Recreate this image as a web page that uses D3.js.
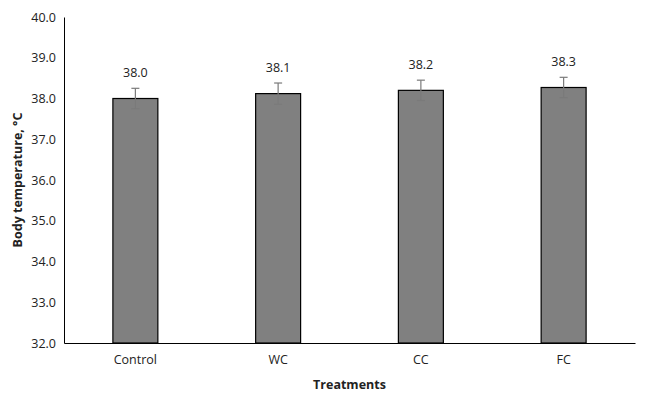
<!DOCTYPE html>
<html>
<head>
<meta charset="utf-8">
<script src="https://cdn.jsdelivr.net/npm/d3@7"></script>
<style>
body{margin:0;background:#fff;}
svg text{font-family:"Open Sans","Noto Sans",sans-serif;fill:#222;}
</style>
</head>
<body>
<svg id="c" width="648" height="401"></svg>
<script>
const categories = ["Control","WC","CC","FC"];
const values = [38.0, 38.12, 38.2, 38.27];
const errors = [0.25, 0.26, 0.25, 0.25];
const labels = ["38.0","38.1","38.2","38.3"];
const yTicks = [32,33,34,35,36,37,38,39,40];

const svg = d3.select("#c");
const m = {l:64, r:13, t:17, b:58};
const W = 648, H = 401;
const x = d3.scaleBand().domain(categories).range([m.l, W-m.r]).paddingInner(0.685).paddingOuter(0.3425);
const y = d3.scaleLinear().domain([32,40]).range([H-m.b, m.t]);

// axes
const ya = svg.append("g").attr("transform",`translate(${m.l},0)`)
  .call(d3.axisLeft(y).tickValues(yTicks).tickFormat(d3.format(".1f")).tickSize(0).tickPadding(8));
ya.select(".domain").attr("stroke","#000");
ya.selectAll("text").attr("font-size",12.5).style("font-family",'"Open Sans","Noto Sans",sans-serif').attr("fill","#222");

// bars
svg.append("g").selectAll("rect").data(categories).join("rect")
  .attr("x",d=>x(d)).attr("width",x.bandwidth())
  .attr("y",(d,i)=>y(values[i])).attr("height",(d,i)=>y(32)-y(values[i]))
  .attr("fill","#808080").attr("stroke","#000").attr("stroke-width",1.2);

const xa = svg.append("g").attr("transform",`translate(0,${H-m.b})`)
  .call(d3.axisBottom(x).tickSize(0).tickPadding(12));
xa.select(".domain").attr("stroke","#000").attr("stroke-width",1.2);
xa.selectAll("text").attr("font-size",12.5).style("font-family",'"Open Sans","Noto Sans",sans-serif').attr("fill","#222");

// error bars
const eg = svg.append("g").attr("stroke","#7a7a7a").attr("stroke-width",1.2);
categories.forEach((c,i)=>{
  const cx = x(c)+x.bandwidth()/2;
  const y1 = y(values[i]+errors[i]), y2 = y(values[i]-errors[i]);
  eg.append("line").attr("x1",cx).attr("x2",cx).attr("y1",y1).attr("y2",y2);
  eg.append("line").attr("x1",cx-4).attr("x2",cx+4).attr("y1",y1).attr("y2",y1);
  eg.append("line").attr("x1",cx-4).attr("x2",cx+4).attr("y1",y2).attr("y2",y2);
});

// value labels
svg.append("g").selectAll("text").data(categories).join("text")
  .attr("x",d=>x(d)+x.bandwidth()/2)
  .attr("y",(d,i)=>y(values[i]+errors[i])-11)
  .attr("text-anchor","middle").attr("font-size",12.5)
  .text((d,i)=>labels[i]);

// axis titles
svg.append("text").attr("x",(m.l+W-m.r)/2).attr("y",389).attr("text-anchor","middle")
  .attr("font-size",12.5).attr("font-weight","bold").text("Treatments");
svg.append("text").attr("transform",`translate(22,${(m.t+H-m.b)/2}) rotate(-90)`)
  .attr("text-anchor","middle").attr("font-size",12.5).attr("font-weight","bold")
  .text("Body temperature, °C");
</script>
</body>
</html>
